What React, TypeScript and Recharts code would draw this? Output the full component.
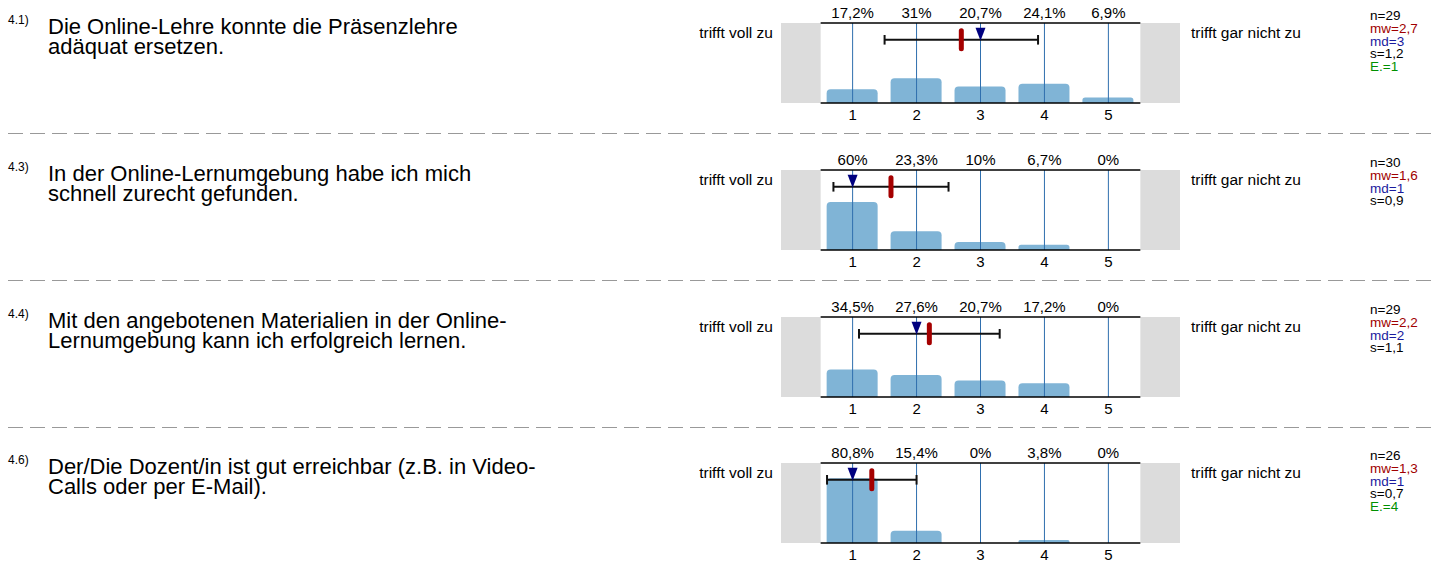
import React from "react";
import {
  Bar,
  ComposedChart,
  ReferenceArea,
  ReferenceDot,
  ReferenceLine,
  XAxis,
  YAxis,
} from "recharts";

const FONT = '"Liberation Sans", Arial, Helvetica, sans-serif';
const BAR = "#80b4d6";
const GRID = "#2f6fae";
const GREY = "#dcdcdc";
const MEAN = "#a50000";
const MEDIAN = "#00007f";

const SCALE = [1, 2, 3, 4, 5];
const IDS = ["4.1)", "4.3)", "4.4)", "4.6)"];
const QUESTIONS = [
  ["Die Online-Lehre konnte die Präsenzlehre", "adäquat ersetzen."],
  ["In der Online-Lernumgebung habe ich mich", "schnell zurecht gefunden."],
  ["Mit den angebotenen Materialien in der Online-", "Lernumgebung kann ich erfolgreich lernen."],
  ["Der/Die Dozent/in ist gut erreichbar (z.B. in Video-", "Calls oder per E-Mail)."],
];

const PCT_41 = [17.2, 31, 20.7, 24.1, 6.9];
const PCT_43 = [60, 23.3, 10, 6.7, 0];
const PCT_44 = [34.5, 27.6, 20.7, 17.2, 0];
const PCT_46 = [80.8, 15.4, 0, 3.8, 0];
const PCTS = [PCT_41, PCT_43, PCT_44, PCT_46];

const N = [29, 30, 29, 26];
const MW = [2.7, 1.6, 2.2, 1.3];
const MD = [3, 1, 2, 1];
const SD = [1.2, 0.9, 1.1, 0.7];
const ABST = [1, null, null, 4];

const LEFT_LABEL = "trifft voll zu";
const RIGHT_LABEL = "trifft gar nicht zu";

// top axis line y of each block
const TOPS = [23, 170, 317, 463];
const SEPARATORS = [133, 280, 427];

const DOMAIN: [number, number] = [-0.12, 6.12];
const MARK_Y = 79;

const comma = (v: number) => String(v).replace(".", ",");

function Block({ idx }: { idx: number }) {
  const T = TOPS[idx];
  const pct = PCTS[idx];
  const data = SCALE.map((k, i) => ({ k, pct: pct[i] }));
  const mw = MW[idx];
  const sd = SD[idx];
  const lo = mw - sd;
  const hi = mw + sd;
  return (
    <>
      <div style={{ position: "absolute", left: 8, top: T - 9, fontSize: 12, lineHeight: "12px" }}>
        {IDS[idx]}
      </div>
      <div style={{ position: "absolute", left: 48, top: T - 6, fontSize: 22, lineHeight: "20px" }}>
        {QUESTIONS[idx].map((l, i) => (
          <div key={i}>{l}</div>
        ))}
      </div>
      <div
        style={{
          position: "absolute",
          left: 600,
          width: 173,
          textAlign: "right",
          top: T + 2,
          fontSize: 15.5,
          lineHeight: "16px",
        }}
      >
        {LEFT_LABEL}
      </div>
      <div style={{ position: "absolute", left: 1191, top: T + 2, fontSize: 15.5, lineHeight: "16px" }}>
        {RIGHT_LABEL}
      </div>
      <div style={{ position: "absolute", left: 1370, top: T - 13, fontSize: 13.5, lineHeight: "12.8px" }}>
        <div>n={N[idx]}</div>
        <div style={{ color: "#a00000" }}>mw={comma(mw)}</div>
        <div style={{ color: "#1a1a9e" }}>md={MD[idx]}</div>
        <div>s={comma(sd)}</div>
        {ABST[idx] != null && <div style={{ color: "#009000" }}>E.={ABST[idx]}</div>}
      </div>
      <div style={{ position: "absolute", left: 760, top: T - 23 }}>
        <ComposedChart
          width={440}
          height={130}
          data={data}
          margin={{ top: 0, right: 20, bottom: 0, left: 21 }}
        >
          <XAxis
            dataKey="k"
            type="number"
            domain={DOMAIN}
            allowDataOverflow
            ticks={SCALE}
            height={27}
            axisLine={false}
            tickLine={false}
            tickSize={0}
            tickMargin={6}
            tick={{ fontSize: 15, fill: "#000", fontFamily: FONT }}
          />
          <XAxis
            xAxisId="top"
            dataKey="k"
            type="number"
            orientation="top"
            domain={DOMAIN}
            allowDataOverflow
            ticks={SCALE}
            height={23}
            axisLine={false}
            tickLine={false}
            tickSize={0}
            tickMargin={5}
            tickFormatter={(v) => comma(pct[Number(v) - 1]) + "%"}
            tick={{ fontSize: 15, fill: "#000", fontFamily: FONT }}
          />
          <YAxis hide domain={[0, 100]} />
          <ReferenceArea x1={DOMAIN[0]} x2={0.5} y1={0} y2={100} fill={GREY} fillOpacity={1} stroke="none" />
          <ReferenceArea x1={5.5} x2={DOMAIN[1]} y1={0} y2={100} fill={GREY} fillOpacity={1} stroke="none" />
          <Bar dataKey="pct" fill={BAR} barSize={51} radius={[4, 4, 0, 0]} isAnimationActive={false} />
          {SCALE.map((k) => (
            <ReferenceLine key={k} x={k} stroke={GRID} strokeWidth={1} />
          ))}
          <ReferenceLine
            segment={[{ x: 0.5, y: 100 }, { x: 5.5, y: 100 }]}
            stroke="#000"
            strokeWidth={1.5}
          />
          <ReferenceLine
            segment={[{ x: 0.5, y: 0 }, { x: 5.5, y: 0 }]}
            stroke="#000"
            strokeWidth={1.5}
          />
          <ReferenceLine segment={[{ x: lo, y: MARK_Y }, { x: hi, y: MARK_Y }]} stroke="#111" strokeWidth={2} />
          <ReferenceLine segment={[{ x: lo, y: MARK_Y - 6 }, { x: lo, y: MARK_Y + 6 }]} stroke="#111" strokeWidth={2} />
          <ReferenceLine segment={[{ x: hi, y: MARK_Y - 6 }, { x: hi, y: MARK_Y + 6 }]} stroke="#111" strokeWidth={2} />
          <ReferenceDot
            x={mw}
            y={MARK_Y}
            shape={(p: any) => (
              <rect x={p.cx - 2.5} y={p.cy - 11.5} width={5} height={23} rx={2.5} fill={MEAN} />
            )}
          />
          <ReferenceDot
            x={MD[idx]}
            y={MARK_Y}
            shape={(p: any) => (
              <polygon
                points={`${p.cx - 5},${p.cy - 12} ${p.cx + 5},${p.cy - 12} ${p.cx},${p.cy + 1}`}
                fill={MEDIAN}
              />
            )}
          />
        </ComposedChart>
      </div>
    </>
  );
}

export default function App() {
  return (
    <div
      style={{
        position: "absolute",
        left: 0,
        top: 0,
        width: 1431,
        height: 561,
        background: "#fff",
        fontFamily: FONT,
        color: "#000",
        overflow: "hidden",
      }}
    >
      <svg width={1431} height={561} style={{ position: "absolute", left: 0, top: 0 }}>
        {SEPARATORS.map((y) => (
          <line key={y} x1={8} x2={1431} y1={y + 0.5} y2={y + 0.5} stroke="#999" strokeDasharray="15 7" />
        ))}
      </svg>
      {TOPS.map((_, i) => (
        <Block key={i} idx={i} />
      ))}
    </div>
  );
}
